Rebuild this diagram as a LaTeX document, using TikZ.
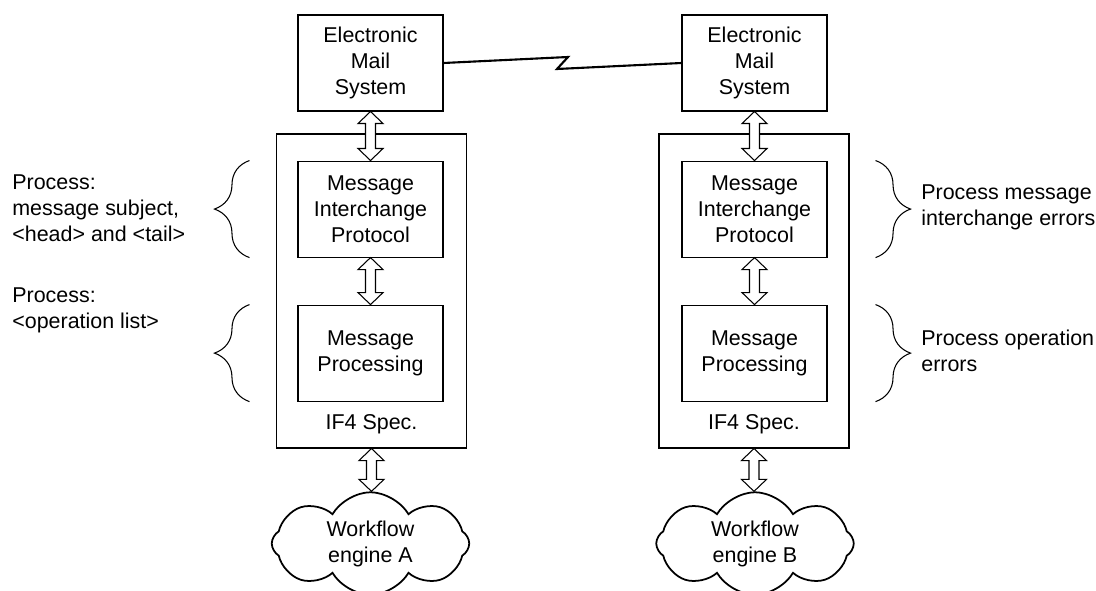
\documentclass[tikz,border=0pt]{standalone}
\usepackage{fontspec}
\setmainfont{Liberation Sans}
\usetikzlibrary{positioning, calc, shapes.symbols, decorations.pathreplacing}

\tikzset{
  box/.style={rectangle, draw, line width=0.6pt, minimum width=2.9cm,
              minimum height=1.92cm, align=center, inner sep=0pt},
  specbox/.style={rectangle, draw, line width=0.6pt, minimum width=3.8cm,
              minimum height=6.28cm},
  engine/.style={cloud, draw, line width=1pt, cloud puffs=8, cloud puff arc=120,
              shape border rotate=22.5, cloud ignores aspect,
              minimum width=3.95cm, minimum height=2.05cm,
              align=center, inner sep=0pt},
  note/.style={anchor=west, align=left, inner sep=0pt},
  grp/.style={decorate, decoration={brace, amplitude=0.7cm}, line width=0.6pt},
}
% hollow two-headed arrow between two nodes (top node, bottom node)
\newcommand{\dblarrow}[2]{%
  \draw[line width=0.6pt, fill=white] let \p1=(#1.south), \p2=(#2.north) in
    (\x1,\y1) -- (\x1-0.25cm,\y1-0.24cm) -- (\x1-0.1cm,\y1-0.24cm)
    -- (\x1-0.1cm,\y2+0.24cm) -- (\x1-0.25cm,\y2+0.24cm) -- (\x1,\y2)
    -- (\x1+0.25cm,\y2+0.24cm) -- (\x1+0.1cm,\y2+0.24cm)
    -- (\x1+0.1cm,\y1-0.24cm) -- (\x1+0.25cm,\y1-0.24cm) -- cycle;}

\begin{document}
\begin{tikzpicture}[font=\fontsize{12.2}{14.8}\selectfont]
\useasboundingbox (0,0) rectangle (21.92,11.8);
% ---------------- side A (left) ----------------
\node[box] (emsA) at (7.41,10.54) {Electronic\\Mail\\System};
\node[specbox] (outerA) at (7.43,5.98) {};
\node[box, below=0.98cm of emsA] (mipA) {Message\\Interchange\\Protocol};
\node[box, below=0.94cm of mipA] (mpA) {Message\\Processing};
\node (specA) at ([yshift=0.48cm]outerA.south) {IF4 Spec.};
\node[engine] (engA) at (7.41,0.93) {Workflow\\engine A};
\dblarrow{emsA}{mipA}
\dblarrow{mipA}{mpA}
\dblarrow{outerA}{engA}
% notes
\draw[grp] ([xshift=-0.96cm]mipA.south west) -- ([xshift=-0.96cm]mipA.north west);
\draw[grp] ([xshift=-0.96cm]mpA.south west) -- ([xshift=-0.96cm]mpA.north west);
\node[note] (noteA1) at (0.24,7.64) {Process:\\message subject,\\<head> and <tail>};
\node[note] (noteA2) at (0.24,5.6) {Process:\\<operation list>};
% ---------------- side B (right) ----------------
\node[box] (emsB) at (15.09,10.54) {Electronic\\Mail\\System};
\node[specbox] (outerB) at (15.08,5.98) {};
\node[box, below=0.98cm of emsB] (mipB) {Message\\Interchange\\Protocol};
\node[box, below=0.94cm of mipB] (mpB) {Message\\Processing};
\node (specB) at ([yshift=0.48cm]outerB.south) {IF4 Spec.};
\node[engine] (engB) at (15.1,0.93) {Workflow\\engine B};
\dblarrow{emsB}{mipB}
\dblarrow{mipB}{mpB}
\dblarrow{outerB}{engB}
% notes
\draw[grp] ([xshift=0.96cm]mipB.north east) -- ([xshift=0.96cm]mipB.south east);
\draw[grp] ([xshift=0.96cm]mpB.north east) -- ([xshift=0.96cm]mpB.south east);
\node[note] (noteB1) at (18.42,7.66) {Process message\\interchange errors};
\node[note] (noteB2) at (18.42,4.78) {Process operation\\errors};
% ---------------- mail link ----------------
\draw[line width=1.2pt] (emsA.east) -- (11.36,10.66) -- (11.14,10.42) -- (emsB.west);
\end{tikzpicture}
\end{document}
